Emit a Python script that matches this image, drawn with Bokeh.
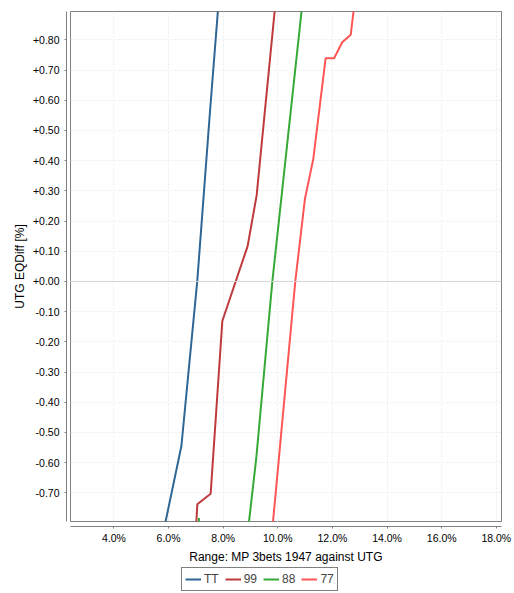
from bokeh.plotting import figure
from bokeh.models import (LinearAxis, FixedTicker, Grid, Span, Legend, LegendItem,
                          Range1d)
from bokeh.layouts import column
from bokeh.embed import file_html
from bokeh.resources import INLINE
import numpy as np

# ---- data ----
series_names = ["TT", "99", "88", "77"]
series_colors = ["#2e6696", "#bf3a3c", "#36a936", "#ff5555"]

x_tt = [5.88, 6.47, 7.05, 7.52, 7.81]
y_tt = [-0.80, -0.545, 0.0, 0.566, 0.90]

x_99 = [7.015, 7.054, 7.541, 7.969, 8.895, 9.225, 9.89]
y_99 = [-0.80, -0.738, -0.703, -0.131, 0.117, 0.285, 0.90]

x_88 = [7.112, 7.112, np.nan, 8.94, 9.214, 9.80, 10.875]
y_88 = [-0.80, -0.783, np.nan, -0.80, -0.583, 0.0, 0.90]

x_77 = [9.82, 10.64, 10.994, 11.30, 11.75, 12.06, 12.36, 12.67, 12.78]
y_77 = [-0.80, 0.0, 0.274, 0.406, 0.739, 0.739, 0.792, 0.817, 0.90]

x_ticks = [4, 6, 8, 10, 12, 14, 16, 18]
x_tick_labels = ["4.0%", "6.0%", "8.0%", "10.0%", "12.0%", "14.0%", "16.0%", "18.0%"]
y_ticks = [-0.7, -0.6, -0.5, -0.4, -0.3, -0.2, -0.1, 0.0, 0.1, 0.2, 0.3, 0.4, 0.5, 0.6, 0.7, 0.8]
y_tick_labels = ["-0.70", "-0.60", "-0.50", "-0.40", "-0.30", "-0.20", "-0.10", "+0.00",
                 "+0.10", "+0.20", "+0.30", "+0.40", "+0.50", "+0.60", "+0.70", "+0.80"]
x_limits = (2.41, 18.19)
y_limits = (-0.795, 0.894)
x_title = "Range: MP 3bets 1947 against UTG"
y_title = "UTG EQDiff [%]"

FONT = "Liberation Sans"
GREY = "#808080"

p = figure(width=514, height=567, output_backend="svg", toolbar_location=None,
           x_axis_type=None, y_axis_type=None,
           x_range=Range1d(*x_limits), y_range=Range1d(*y_limits),
           min_border_left=70, min_border_right=13, min_border_top=11, min_border_bottom=46)
p.outline_line_color = GREY
p.outline_line_width = 1
p.background_fill_color = "white"
p.border_fill_color = "white"

# spacer axes (offset the real axes from the frame, like the reference)
def spacer(size, tick):
    return LinearAxis(ticker=FixedTicker(ticks=[tick]), axis_line_color=None,
                      major_tick_line_color="white", minor_tick_line_color=None,
                      major_tick_out=size, major_tick_in=0, major_label_standoff=0,
                      major_label_overrides={tick: ""},
                      major_label_text_font_size="1px")

p.add_layout(spacer(4, 0.0), "left")
p.add_layout(spacer(5, 10), "below")

yt = FixedTicker(ticks=y_ticks)
xt = FixedTicker(ticks=x_ticks)

yaxis = LinearAxis(ticker=yt, axis_label=y_title,
                   major_label_overrides={t: l for t, l in zip(y_ticks, y_tick_labels)})
xaxis = LinearAxis(ticker=xt, axis_label=x_title,
                   major_label_overrides={t: l for t, l in zip(x_ticks, x_tick_labels)})
for ax in (xaxis, yaxis):
    ax.axis_line_color = GREY
    ax.major_tick_line_color = GREY
    ax.minor_tick_line_color = None
    ax.major_tick_out = 2
    ax.major_tick_in = 0
    ax.major_label_text_font = FONT
    ax.major_label_text_font_size = "10.5px"
    ax.major_label_text_color = "black"
    ax.axis_label_text_font = FONT
    ax.axis_label_text_font_size = "12px"
    ax.axis_label_text_font_style = "normal"
    ax.axis_label_text_color = "black"
yaxis.major_label_standoff = 5
yaxis.axis_label_standoff = 3
xaxis.major_label_standoff = 3
xaxis.axis_label_standoff = 3
p.add_layout(yaxis, "left")
p.add_layout(xaxis, "below")

p.add_layout(Grid(dimension=0, ticker=xt, grid_line_color="#ececec", grid_line_dash="2 2"))
p.add_layout(Grid(dimension=1, ticker=yt, grid_line_color="#ececec", grid_line_dash="2 2"))
p.add_layout(Span(location=0.0, dimension="width", line_color="#d4d4d4", line_width=1))

xs = [x_tt, x_99, x_88, x_77]
ys = [y_tt, y_99, y_88, y_77]
for name, col, xv, yv in zip(series_names, series_colors, xs, ys):
    p.line(xv, yv, line_color=col, line_width=2)

# legend strip below the chart (same series, kept out of its view range)
lg = figure(width=514, height=26, output_backend="svg", toolbar_location=None,
            x_axis_type=None, y_axis_type=None,
            x_range=Range1d(0, 1), y_range=Range1d(0, 1),
            min_border_left=0, min_border_right=0, min_border_top=0, min_border_bottom=0)
lg.outline_line_color = None
lg.background_fill_color = "white"
lg.border_fill_color = "white"
items = []
for name, col, xv, yv in zip(series_names, series_colors, xs, ys):
    r = lg.line(xv, yv, line_color=col, line_width=2)
    items.append(LegendItem(label=name, renderers=[r]))
legend = Legend(items=items, orientation="horizontal", location=(111, 2),
                border_line_color="black", border_line_width=1, padding=3, spacing=6,
                glyph_width=16, glyph_height=16, label_height=16, label_width=10,
                label_standoff=3,
                label_text_font=FONT, label_text_font_size="12px",
                label_text_color="#444444", margin=0, background_fill_color="white",
                background_fill_alpha=1.0)
lg.add_layout(legend, "center")

layout = column(p, lg, spacing=0)
open("out.html", "w").write(file_html(layout, INLINE))
